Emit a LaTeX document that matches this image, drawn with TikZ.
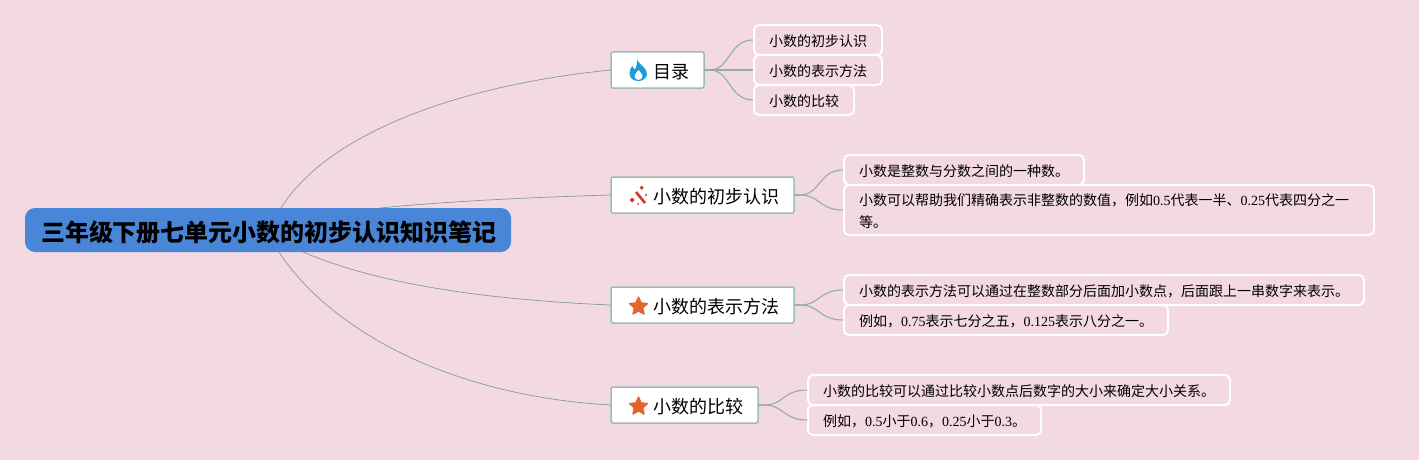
\documentclass[tikz,border=0pt]{standalone}
\usepackage{fontspec}
\setmainfont{Noto Sans CJK SC}
\newfontfamily\latnum{Liberation Serif}
\newcommand{\dg}[1]{{\latnum #1}}
\usetikzlibrary{shapes.geometric}
\definecolor{bgpink}{HTML}{F3D9E1}
\definecolor{rootblue}{HTML}{4A86D8}
\definecolor{boxline}{HTML}{9DBDB3}
\definecolor{linkdark}{HTML}{7F9F95}
\definecolor{linksoft}{HTML}{8FB0A7}
\definecolor{flameblue}{HTML}{1E9BDC}
\definecolor{wandred}{HTML}{CF3B2E}
\definecolor{starorange}{HTML}{E0652F}
\tikzset{
  rootbox/.style={anchor=north west,outer sep=0pt,fill=rootblue,rounded corners=10pt,minimum height=44pt,inner ysep=0pt,inner xsep=16pt,text width=454pt,align=left,font=\fontsize{24pt}{30pt}\selectfont\bfseries,execute at begin node={\rule{0pt}{26pt}}},
  mainbox/.style={anchor=north west,outer sep=0pt,fill=white,draw=boxline,line width=1.5pt,rounded corners=2pt,minimum height=36pt,inner ysep=0pt,inner xsep=15pt,align=left,font=\fontsize{18pt}{24pt}\selectfont,execute at begin node={\rule{0pt}{18pt}}},
  leafbox/.style={anchor=north west,outer sep=0pt,draw=white,line width=2pt,rounded corners=5pt,minimum height=30pt,inner ysep=0pt,inner xsep=15pt,align=left,font=\fontsize{14pt}{22pt}\selectfont,execute at begin node={\rule{0pt}{15pt}}},
  rootlink/.style={draw=linkdark,line width=0.7pt},
  leaflink/.style={draw=linksoft,line width=1.1pt},
  staricon/.style={star,star points=5,star point ratio=2.1,fill=starorange,draw=starorange,line width=1.2pt,line join=round,minimum size=19pt,inner sep=0pt}
}
\begin{document}
\begin{tikzpicture}[x=1pt,y=-1pt]
\useasboundingbox (0,0) rectangle (1419,460);
\fill[bgpink] (0,0) rectangle (1419,460);
% free ends of the root connectors on the root's border
\coordinate (r1) at (281,208);
\coordinate (r2) at (380,208);
\coordinate (r3) at (303,252);
\coordinate (r4) at (279,252);
% main topics and leaves
\node[mainbox,minimum width=93pt,text width=63pt] (m1) at (611,52) {\hspace*{27pt}目录};
\node[mainbox,minimum width=183pt,text width=153pt] (m2) at (611,177) {\hspace*{27pt}小数的初步认识};
\node[mainbox,minimum width=183pt,text width=153pt] (m3) at (611,287) {\hspace*{27pt}小数的表示方法};
\node[mainbox,minimum width=147pt,text width=117pt] (m4) at (611,387) {\hspace*{27pt}小数的比较};
\node[leafbox,text width=98pt] (a1) at (754,25) {小数的初步认识};
\node[leafbox,text width=98pt] (a2) at (754,55) {小数的表示方法};
\node[leafbox,text width=70pt] (a3) at (754,85) {小数的比较};
\node[leafbox,text width=210pt] (b1) at (844,155) {小数是整数与分数之间的一种数。};
\node[leafbox,text width=500pt,minimum height=50pt] (b2) at (844,185) {小数可以帮助我们精确表示非整数的数值，例如\dg{0.5}代表一半、\dg{0.25}代表四分之一\\等。};
\node[leafbox,text width=490pt] (c1) at (844,275) {小数的表示方法可以通过在整数部分后面加小数点，后面跟上一串数字来表示。};
\node[leafbox,text width=294pt] (c2) at (844,305) {例如，\dg{0.75}表示七分之五，\dg{0.125}表示八分之一。};
\node[leafbox,text width=392pt] (d1) at (808,375) {小数的比较可以通过比较小数点后数字的大小来确定大小关系。};
\node[leafbox,text width=203pt] (d2) at (808,405) {例如，\dg{0.5}小于\dg{0.6}，\dg{0.25}小于\dg{0.3}。};
% root connectors
\draw[rootlink] (r1) .. controls (325,137) and (450,86) .. (m1.west);
\draw[rootlink] (r2) .. controls (450,201) and (540,197) .. (m2.west);
\draw[rootlink] (r3) .. controls (380,285) and (490,300) .. (m3.west);
\draw[rootlink] (r4) .. controls (330,330) and (450,396) .. (m4.west);
\foreach \p/\q in {m1/a1,m1/a2,m1/a3,m2/b1,m2/b2,m3/c1,m3/c2,m4/d1,m4/d2}{
  \draw[leaflink] (\p.east) -- ++(6,0) .. controls +(20,0) and +(-24,0) .. ([xshift=-1pt]\q.west);
}
% root on top
\node[rootbox,minimum width=486pt] (root) at (25,208) {三年级下册七单元小数的初步认识知识笔记};
% icons
\fill[flameblue] (637,60) .. controls (640,65) and (647,68) .. (647,74)
  .. controls (647,78) and (643,81) .. (638.5,81)
  .. controls (633,81) and (629.5,78) .. (629.5,73)
  .. controls (629.5,70) and (631,67.5) .. (632.5,66)
  .. controls (633,68) and (634,69) .. (635,69.5)
  .. controls (636.5,67) and (637.5,63) .. (637,60) -- cycle;
\fill[white] (638.5,80) .. controls (636,80) and (634.5,78) .. (634.5,76)
  .. controls (634.5,74) and (637,72.5) .. (638.5,70)
  .. controls (640,72.5) and (642.5,74) .. (642.5,76)
  .. controls (642.5,78) and (641,80) .. (638.5,80) -- cycle;
\draw[wandred,line width=2.6pt] (636,192) -- (645,203);
\fill[wandred] (632,197.5) -- (634.5,200) -- (632,202.5) -- (629.5,200) -- cycle;
\fill[wandred] (641.7,185.5) -- (643.7,187.7) -- (641.7,189.9) -- (639.7,187.7) -- cycle;
\fill[wandred] (646,195) circle (1.2pt);
\fill[wandred] (638,204) circle (1pt);
\node[staricon] (s3) at (638.5,306.5) {};
\node[staricon] (s4) at (638.5,406.5) {};
\end{tikzpicture}
\end{document}
